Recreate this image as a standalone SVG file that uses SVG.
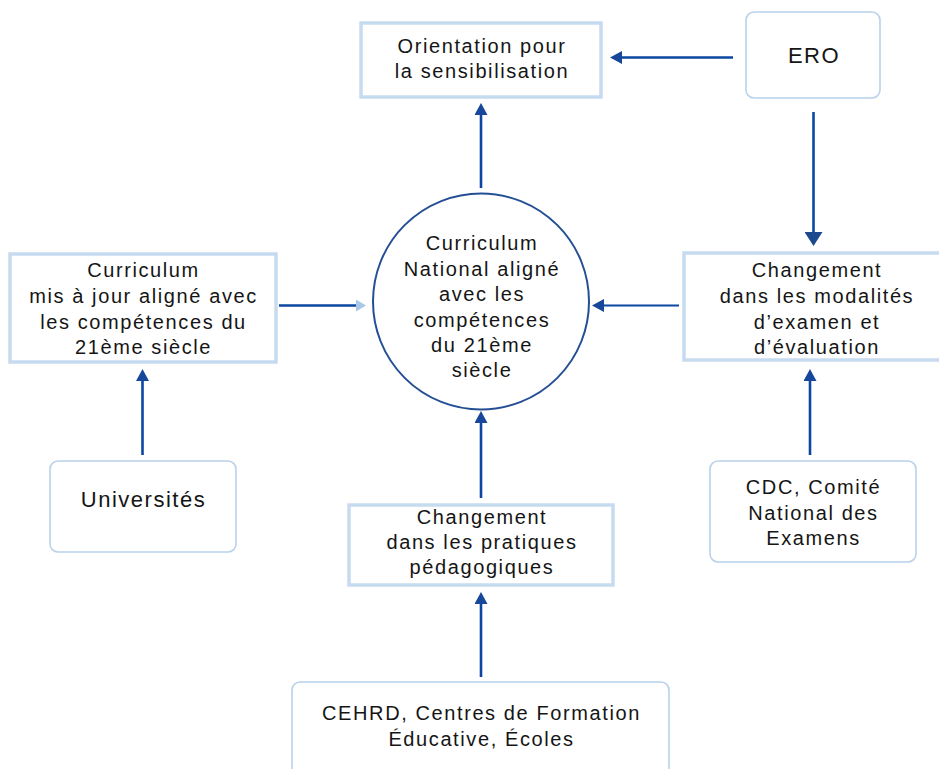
<svg xmlns="http://www.w3.org/2000/svg" width="939" height="769" viewBox="0 0 939 769">
  <style>
    .box { fill: #ffffff; stroke: #c6dbef; stroke-width: 3.5; }
    .src { fill: #ffffff; stroke: #b9d1ea; stroke-width: 1.6; }
    .hub { fill: #ffffff; stroke: #244f95; stroke-width: 2; }
    .t { font-family: "Liberation Sans", Arial, sans-serif; font-size: 20px; letter-spacing: 1.6px; fill: #151515; text-anchor: middle; }
    .tl { font-size: 22px; letter-spacing: 1.5px; }
    .ln { stroke: #0b47a0; stroke-width: 2.6; fill: none; }
    .ln.thin { stroke-width: 2; }
  </style>
  <defs>
    <marker id="head" markerUnits="userSpaceOnUse" markerWidth="12" markerHeight="13" refX="0" refY="6.5" orient="auto">
      <path d="M0,0 L12,6.5 L0,13 z" fill="#17479a"/>
    </marker>
    <marker id="head-big" markerUnits="userSpaceOnUse" markerWidth="14" markerHeight="18" refX="0" refY="9" orient="auto">
      <path d="M0,0 L14,9 L0,18 z" fill="#1d4a8e"/>
    </marker>
    <marker id="head-pale" markerUnits="userSpaceOnUse" markerWidth="10" markerHeight="12" refX="0" refY="6" orient="auto">
      <path d="M0,0 L10,6 L0,12 z" fill="#a9c7e8"/>
    </marker>
  </defs>

  <!-- connectors -->
  <g id="connectors">
    <line class="ln" x1="733" y1="57.5" x2="622" y2="57.5" marker-end="url(#head)"/>
    <line class="ln" x1="481" y1="188" x2="481" y2="115" marker-end="url(#head)"/>
    <line class="ln" x1="813.5" y1="112" x2="813.5" y2="232" marker-end="url(#head-big)"/>
    <line class="ln" x1="279" y1="305.5" x2="356" y2="305.5" marker-end="url(#head-pale)"/>
    <line class="ln thin" x1="679" y1="305.5" x2="604" y2="305.5" marker-end="url(#head)"/>
    <line class="ln" x1="142.5" y1="455" x2="142.5" y2="381" marker-end="url(#head)"/>
    <line class="ln" x1="810" y1="455" x2="810" y2="381" marker-end="url(#head)"/>
    <line class="ln" x1="481" y1="498" x2="481" y2="423" marker-end="url(#head)"/>
    <line class="ln" x1="481" y1="677" x2="481" y2="604" marker-end="url(#head)"/>
  </g>

  <!-- Orientation pour la sensibilisation -->
  <g id="orientation">
    <rect class="box" x="361" y="23" width="240" height="74"/>
    <text class="t" x="482" y="53">Orientation pour</text>
    <text class="t" x="482" y="78">la sensibilisation</text>
  </g>

  <!-- ERO -->
  <g id="ero">
    <rect class="src" x="746" y="12" width="134" height="86" rx="8"/>
    <text class="t tl" x="814" y="62.5">ERO</text>
  </g>

  <!-- central hub -->
  <g id="curriculum-national">
    <circle class="hub" cx="481" cy="301.5" r="108"/>
    <text class="t" x="482" y="250">Curriculum</text>
    <text class="t" x="482" y="275.5">National aligné</text>
    <text class="t" x="482" y="301">avec les</text>
    <text class="t" x="482" y="326.5">compétences</text>
    <text class="t" x="482" y="352">du 21ème</text>
    <text class="t" x="482" y="377">siècle</text>
  </g>

  <!-- updated curriculum -->
  <g id="curriculum-mis-a-jour">
    <rect class="box" x="10" y="254" width="266" height="108"/>
    <text class="t" x="143.5" y="277">Curriculum</text>
    <text class="t" x="143.5" y="303">mis à jour aligné avec</text>
    <text class="t" x="143.5" y="328.5">les compétences du</text>
    <text class="t" x="143.5" y="353.5">21ème siècle</text>
  </g>

  <!-- exam changes -->
  <g id="changement-examen">
    <rect class="box" x="684" y="253" width="270" height="107"/>
    <text class="t" x="817" y="277">Changement</text>
    <text class="t" x="817" y="303">dans les modalités</text>
    <text class="t" x="817" y="329">d’examen et</text>
    <text class="t" x="817" y="353.5">d’évaluation</text>
  </g>

  <!-- Universités -->
  <g id="universites">
    <rect class="src" x="50" y="461" width="186" height="91" rx="8"/>
    <text class="t tl" x="143.5" y="506.5">Universités</text>
  </g>

  <!-- CDC -->
  <g id="cdc">
    <rect class="src" x="710" y="461" width="206" height="101" rx="8"/>
    <text class="t" x="813.5" y="494">CDC, Comité</text>
    <text class="t" x="813.5" y="519.5">National des</text>
    <text class="t" x="813.5" y="545">Examens</text>
  </g>

  <!-- teaching practices -->
  <g id="changement-pedagogique">
    <rect class="box" x="349" y="505" width="264" height="80"/>
    <text class="t" x="482" y="523.5">Changement</text>
    <text class="t" x="482" y="549">dans les pratiques</text>
    <text class="t" x="482" y="573.5">pédagogiques</text>
  </g>

  <!-- CEHRD -->
  <g id="cehrd">
    <rect class="src" x="292" y="682" width="377" height="110" rx="8"/>
    <text class="t" x="481.5" y="720">CEHRD, Centres de Formation</text>
    <text class="t" x="481.5" y="746">Éducative, Écoles</text>
  </g>
</svg>
